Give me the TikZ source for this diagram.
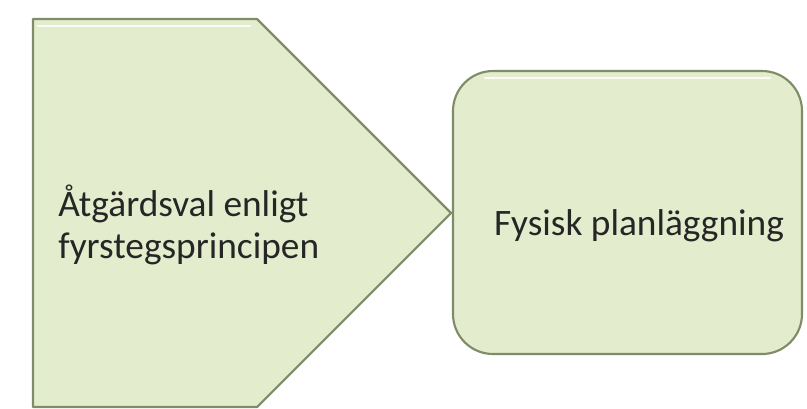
\documentclass[tikz,border=0pt]{standalone}
\usepackage{fontspec}
\setmainfont{Carlito}
\definecolor{boxfill}{HTML}{E3ECCC}
\definecolor{boxedge}{HTML}{7F8C68}
\tikzset{
  shapebox/.style={fill=boxfill, draw=boxedge, line width=1.6pt, line join=round},
  shine/.style={draw=white, line width=2.2pt, line cap=round, opacity=0.8},
  label/.style={font=\fontsize{28}{31}\selectfont, text=black!85, inner sep=0pt}
}
\begin{document}
\begin{tikzpicture}[x=0.75pt, y=-0.75pt]
  \useasboundingbox[fill=white] (0,0) rectangle (807,408);
  % steg 1: pil
  \draw[shapebox] (33,19) -- (257,19) -- (451,213) -- (257,407) -- (33,407) -- cycle;
  \draw[shine] (38,26) -- (250,26);
  % steg 2: rundad ruta
  \draw[shapebox, rounded corners=30pt] (453,71) rectangle (802,354);
  \draw[shine] (485,78) -- (770,78);
  % texter
  \node[label, align=left, anchor=west] (atgard) at (58,225) {Åtgärdsval enligt\\fyrstegsprincipen};
  \node[label] (fysisk) at (639,226) {Fysisk planläggning};
\end{tikzpicture}
\end{document}
